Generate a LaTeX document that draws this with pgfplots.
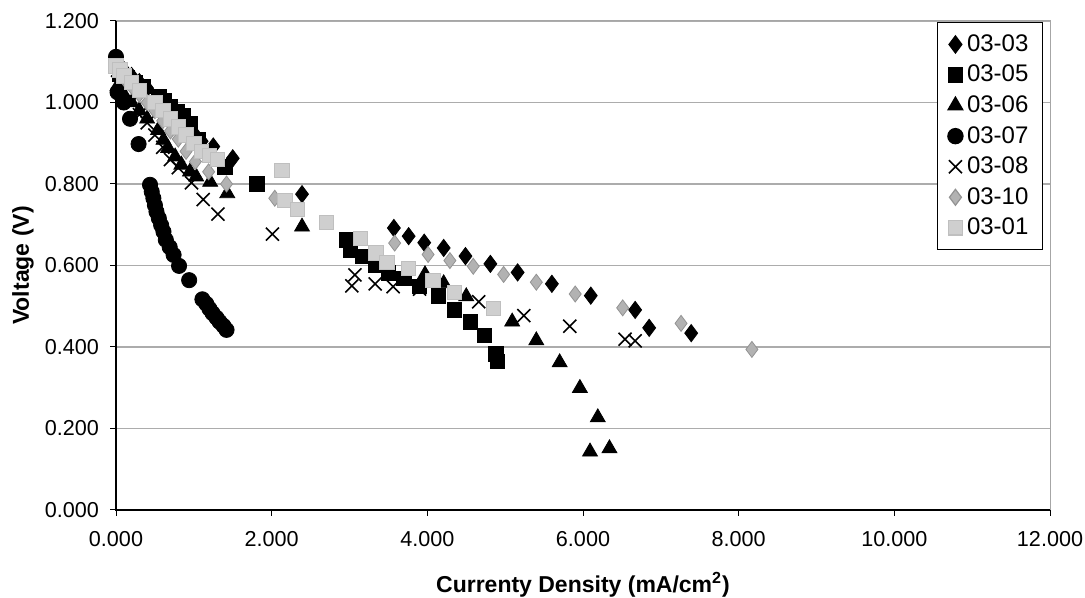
\documentclass[border=0pt]{standalone}
\usepackage{pgfplots}
\pgfplotsset{compat=1.18}
\usepackage{fontspec}
\setmainfont{Liberation Sans}

\begin{document}
\begin{tikzpicture}
\begin{axis}[
    scale only axis,
    width=467pt, height=244.5pt,
    xmin=0, xmax=12, ymin=0, ymax=1.2,
    xtick={0,2,...,12}, ytick={0,0.2,...,1.2},
    xtick pos=left, ytick pos=left,
    tick align=outside,
    major tick length=3pt,
    tick style={black, line width=0.5pt},
    axis line style={gray!70, line width=0.5pt},
    ymajorgrids=true,
    grid style={gray!65, line width=0.6pt},
    clip=false,
    /pgf/number format/assume math mode=true,
    /pgf/number format/fixed,
    /pgf/number format/fixed zerofill,
    /pgf/number format/precision=3,
    /pgf/number format/1000 sep={},
    ticklabel style={font=\fontsize{10.8}{13}\selectfont},
    yticklabel style={xshift=-2pt},
    xticklabel style={yshift=-4pt},
    xlabel={\bfseries Currenty Density (mA/cm\textsuperscript{2})},
    ylabel={\bfseries Voltage (V)},
    label style={font=\fontsize{11.5}{13}\selectfont},
    xlabel style={at={(axis description cs:0.5,0)}, anchor=center, yshift=-37.5pt},
    ylabel style={at={(axis description cs:0,0.5)}, anchor=center, yshift=46.5pt},
    legend style={at={(1,1)}, anchor=north east, xshift=-3.5pt, yshift=-0.5pt,
      draw=black, line width=0.6pt, fill=white,
      font=\fontsize{12}{14}\selectfont, row sep=1.4pt,
      inner xsep=5pt, inner ysep=4pt},
    legend cell align=left,
]
% 03-03
\addplot[only marks, mark=diamond*, mark size=4.3pt, black, fill=black] coordinates {
(0.00,1.095)(0.10,1.08)(0.20,1.065)(0.30,1.05)(0.40,1.035)(0.60,1.00)(0.80,0.96)
(1.00,0.925)(1.10,0.905)(1.25,0.892)(1.50,0.863)(2.39,0.775)
(3.57,0.692)(3.76,0.672)(3.96,0.656)(4.21,0.643)(4.49,0.623)(4.81,0.604)
(5.16,0.583)(5.60,0.555)(6.10,0.526)(6.67,0.491)(6.85,0.447)(7.39,0.434)};
\addlegendentry{03-03}
% 03-05
\addplot[only marks, mark=square*, mark size=3.6pt, black, fill=black] coordinates {
(0.05,1.07)(0.15,1.06)(0.25,1.05)(0.35,1.04)(0.55,1.015)(0.62,1.005)(0.70,0.99)
(0.78,0.978)(0.86,0.968)(0.95,0.948)(1.05,0.91)(1.14,0.88)(1.30,0.86)(1.40,0.842)
(1.81,0.80)(2.96,0.663)(3.01,0.638)(3.17,0.623)(3.33,0.601)(3.50,0.582)(3.70,0.568)
(3.90,0.548)(4.14,0.525)(4.35,0.491)(4.55,0.462)(4.73,0.429)(4.88,0.383)(4.90,0.365)};
\addlegendentry{03-05}
% 03-06
\addplot[only marks, mark=triangle*, mark size=4.3pt, black, fill=black] coordinates {
(0.02,1.04)(0.10,1.02)(0.20,1.00)(0.30,0.98)(0.40,0.96)(0.54,0.932)(0.61,0.908)
(0.67,0.888)(0.76,0.867)(0.84,0.847)(0.95,0.830)(1.03,0.818)(1.21,0.805)(1.43,0.777)
(2.39,0.695)(3.97,0.578)(4.21,0.556)(4.50,0.524)(5.09,0.462)(5.40,0.416)(5.70,0.362)
(5.96,0.299)(6.19,0.227)(6.09,0.143)(6.34,0.151)};
\addlegendentry{03-06}
% 03-07
\addplot[only marks, mark=*, mark size=3.8pt, black, fill=black] coordinates {
(0.00,1.112)(0.02,1.025)(0.10,1.00)(0.18,0.96)(0.29,0.898)
(0.437,0.798)(0.459,0.781)(0.48,0.765)(0.50,0.748)(0.52,0.732)(0.55,0.716)(0.58,0.699)
(0.61,0.683)(0.64,0.663)(0.69,0.645)(0.74,0.626)(0.81,0.599)(0.94,0.564)(1.11,0.517)
(1.16,0.506)(1.20,0.494)(1.24,0.483)(1.29,0.472)(1.33,0.462)(1.38,0.452)(1.42,0.442)};
\addlegendentry{03-07}
% 03-08
\addplot[only marks, mark=x, mark size=4.6pt, black, line width=0.8pt] coordinates {
(0.02,1.05)(0.10,1.03)(0.20,1.00)(0.30,0.97)(0.40,0.95)(0.50,0.92)(0.60,0.89)
(0.70,0.86)(0.80,0.84)(0.97,0.803)(1.12,0.762)(1.31,0.726)(2.01,0.677)(3.07,0.577)
(3.03,0.550)(3.33,0.555)(3.56,0.548)(3.90,0.542)(4.66,0.511)(5.24,0.477)(5.83,0.451)
(6.54,0.419)(6.67,0.415)};
\addlegendentry{03-08}
% 03-10
\addplot[only marks, mark=diamond*, mark size=4pt, draw=gray!85, fill=gray!60] coordinates {
(0.00,1.08)(0.05,1.07)(0.10,1.06)(0.15,1.05)(0.20,1.04)(0.30,1.02)(0.40,1.00)
(0.50,0.98)(0.60,0.955)(0.70,0.93)(0.80,0.91)(0.90,0.88)(1.02,0.855)(1.19,0.83)
(1.42,0.80)(2.04,0.765)(3.58,0.655)(4.01,0.627)(4.29,0.612)(4.59,0.598)(4.98,0.578)
(5.40,0.559)(5.90,0.53)(6.51,0.496)(7.26,0.458)(8.17,0.394)};
\addlegendentry{03-10}
% 03-01
\addplot[only marks, mark=square*, mark size=3.6pt, draw=gray!50, fill=gray!38] coordinates {
(0.00,1.09)(0.05,1.08)(0.10,1.065)(0.20,1.05)(0.30,1.03)(0.50,1.00)(0.60,0.98)
(0.70,0.96)(0.80,0.94)(0.90,0.92)(1.00,0.90)(1.10,0.88)(1.20,0.87)(1.30,0.86)
(2.13,0.834)(2.17,0.76)(2.33,0.738)(2.70,0.706)(3.14,0.667)(3.34,0.631)(3.48,0.607)
(3.76,0.593)(4.07,0.564)(4.35,0.534)(4.85,0.495)};
\addlegendentry{03-01}
\draw[black, line width=0.6pt] (rel axis cs:0,1) -- (rel axis cs:0,0) -- (rel axis cs:1,0);
\coordinate (SW) at (rel axis cs:0,0);
\coordinate (NE) at (rel axis cs:1,1);
\end{axis}
\pgfresetboundingbox
\path ([xshift=-58pt,yshift=-44pt]SW) rectangle ([xshift=17.5pt,yshift=10.5pt]NE);
\end{tikzpicture}
\end{document}
